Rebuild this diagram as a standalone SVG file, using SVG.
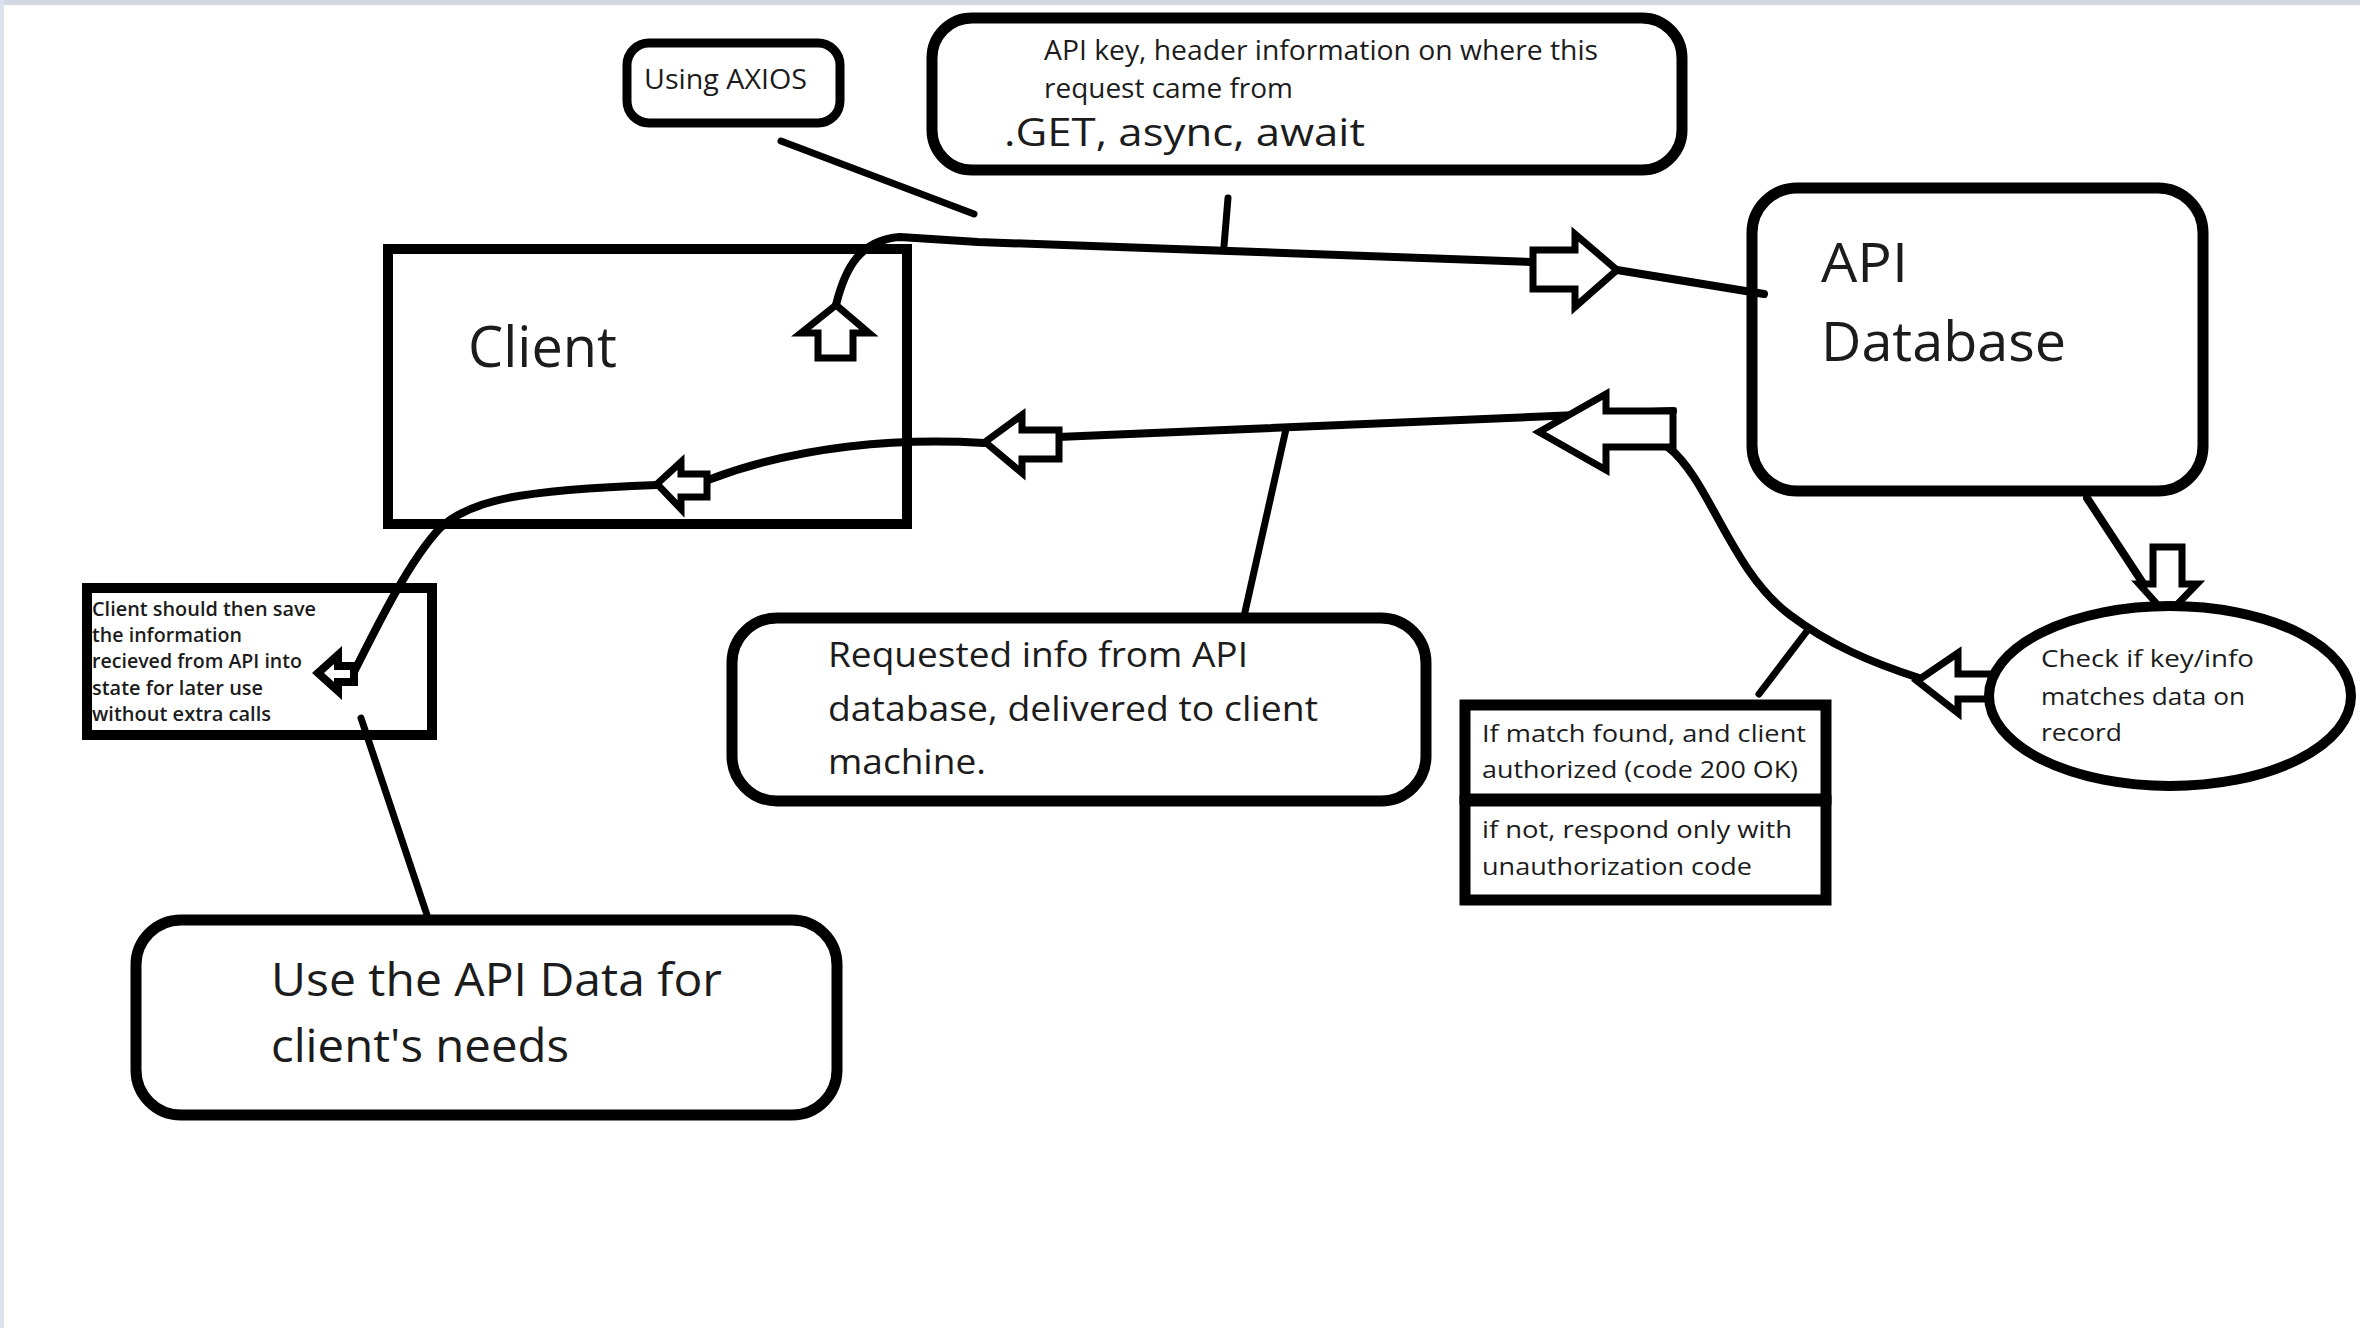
<svg xmlns="http://www.w3.org/2000/svg" width="2360" height="1328" viewBox="0 0 2360 1328">
<style>
.box{fill:#fff;stroke:#000;stroke-width:11}
.ln{fill:none;stroke:#000;stroke-width:8;stroke-linecap:round;stroke-linejoin:round}
.ptr{fill:none;stroke:#000;stroke-width:7;stroke-linecap:round}
.arr{fill:#fff;stroke:#000;stroke-width:7;stroke-linejoin:miter}
text{font-family:"Open Sans","Noto Sans","Liberation Sans",sans-serif;fill:#1c1c1c}
</style>
<rect x="0" y="0" width="2360" height="1328" fill="#fff"/>
<rect x="0" y="0" width="2360" height="5" fill="#d3d9e3"/>
<rect x="0" y="0" width="4" height="1328" fill="#dde3ec"/>

<g id="connectors">
<path class="ptr" d="M781,141 L974,214"/>
<path class="ptr" d="M1228,198 L1224,246"/>
<path class="ptr" d="M1286,429 L1245,612"/>
<path class="ptr" d="M361,718 L427,915"/>
<path class="ptr" d="M1759,694 L1807,631"/>
<path class="ln" d="M836,305 C845,268 860,240 900,237 L978,242 L1533,262"/>
<path class="ln" d="M1617,270 L1764,294"/>
<path class="ln" d="M1673,411 L1058,437"/>
<path class="ln" d="M984,443 C900,438 800,445 708,480"/>
<path class="ln" d="M657,485 C520,490 470,500 440,528 C410,560 380,620 354,672"/>
<path class="ln" d="M1668,447 C1710,480 1730,570 1790,615 C1830,645 1870,662 1919,678"/>
<path class="ln" d="M2087,498 L2152,597"/>
<polygon class="arr" points="836,305 869,333 853,333 853,358 818,358 818,333 801,333"/>
<polygon class="arr" points="1533,250 1575,250 1575,234 1617,270 1575,307 1575,289 1533,289"/>
<polygon class="arr" points="1539,432 1606,394 1606,411 1673,411 1673,447 1606,447 1606,470"/>
<polygon class="arr" points="985,442 1022,415 1022,430 1059,430 1059,459 1022,459 1022,473"/>
<polygon class="arr" points="657,484 681,462 681,474 707,474 707,497 681,497 681,509"/>
<polygon class="arr" points="318,673 338,655 338,666 354,666 354,682 338,682 338,691" style="stroke-width:8"/>
<polygon class="arr" points="2153,547 2182,547 2182,584 2197,584 2167,615 2139,584 2153,584"/>
<polygon class="arr" points="1917,681 1958,653 1958,674 1997,674 1997,699 1958,699 1958,713"/>
</g>

<g id="using-axios">
<rect class="box" x="627" y="43" width="213" height="80" rx="22" style="stroke-width:9"/>
<text x="644" y="89" font-size="28" textLength="163" lengthAdjust="spacingAndGlyphs">Using AXIOS</text>
</g>

<g id="request-info">
<rect class="box" x="932" y="18" width="750" height="152" rx="40"/>
<text x="1044" y="60" font-size="28" textLength="554" lengthAdjust="spacingAndGlyphs">API key, header information on where this</text>
<text x="1044" y="98" font-size="28" textLength="249" lengthAdjust="spacingAndGlyphs">request came from</text>
<text x="1004" y="146" font-size="38" textLength="361" lengthAdjust="spacingAndGlyphs">.GET, async, await</text>
</g>

<g id="client">
<rect x="388" y="249" width="519" height="275" fill="none" stroke="#000" stroke-width="10"/>
<text x="468" y="367" font-size="56" textLength="149" lengthAdjust="spacingAndGlyphs">Client</text>
</g>

<g id="api-database">
<rect class="box" x="1752" y="188" width="451" height="303" rx="45" style="fill:none"/>
<text x="1821" y="282" font-size="54" textLength="87" lengthAdjust="spacingAndGlyphs">API</text>
<text x="1821" y="361" font-size="54" textLength="245" lengthAdjust="spacingAndGlyphs">Database</text>
</g>

<g id="save-state">
<rect x="87" y="588" width="345" height="147" fill="none" stroke="#000" stroke-width="10"/>
<g font-weight="600">
<text x="92" y="616" font-size="19" textLength="224" lengthAdjust="spacingAndGlyphs">Client should then save</text>
<text x="92" y="642" font-size="19" textLength="150" lengthAdjust="spacingAndGlyphs">the information</text>
<text x="92" y="668" font-size="19" textLength="210" lengthAdjust="spacingAndGlyphs">recieved from API into</text>
<text x="92" y="695" font-size="19" textLength="171" lengthAdjust="spacingAndGlyphs">state for later use</text>
<text x="92" y="721" font-size="19" textLength="179" lengthAdjust="spacingAndGlyphs">without extra calls</text>
</g>
</g>

<g id="use-data">
<rect class="box" x="136" y="920" width="701" height="195" rx="45"/>
<text x="271" y="996" font-size="45" textLength="451" lengthAdjust="spacingAndGlyphs">Use the API Data for</text>
<text x="271" y="1062" font-size="45" textLength="298" lengthAdjust="spacingAndGlyphs">client's needs</text>
</g>

<g id="requested-info">
<rect class="box" x="732" y="618" width="694" height="183" rx="45"/>
<text x="828" y="667" font-size="35" textLength="420" lengthAdjust="spacingAndGlyphs">Requested info from API</text>
<text x="828" y="721" font-size="35" textLength="490" lengthAdjust="spacingAndGlyphs">database, delivered to client</text>
<text x="828" y="774" font-size="35" textLength="158" lengthAdjust="spacingAndGlyphs">machine.</text>
</g>

<g id="check-key">
<ellipse cx="2170" cy="696" rx="181" ry="90" fill="#fff" stroke="#000" stroke-width="10"/>
<text x="2041" y="667" font-size="24" textLength="213" lengthAdjust="spacingAndGlyphs">Check if key/info</text>
<text x="2041" y="705" font-size="24" textLength="204" lengthAdjust="spacingAndGlyphs">matches data on</text>
<text x="2041" y="741" font-size="24" textLength="81" lengthAdjust="spacingAndGlyphs">record</text>
</g>

<g id="response-codes">
<rect x="1465" y="705" width="361" height="94" fill="#fff" stroke="#000" stroke-width="11"/>
<rect x="1465" y="801" width="361" height="99" fill="#fff" stroke="#000" stroke-width="11"/>
<text x="1482" y="742" font-size="24" textLength="324" lengthAdjust="spacingAndGlyphs">If match found, and client</text>
<text x="1482" y="778" font-size="24" textLength="316" lengthAdjust="spacingAndGlyphs">authorized (code 200 OK)</text>
<text x="1482" y="838" font-size="24" textLength="310" lengthAdjust="spacingAndGlyphs">if not, respond only with</text>
<text x="1482" y="875" font-size="24" textLength="270" lengthAdjust="spacingAndGlyphs">unauthorization code</text>
</g>
</svg>
